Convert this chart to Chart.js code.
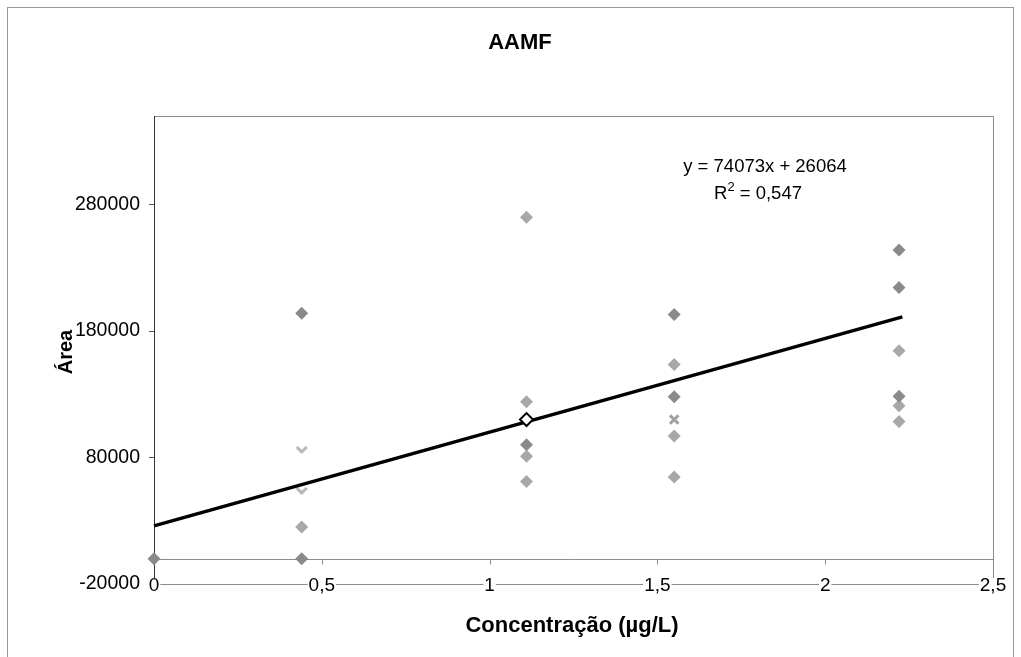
<!DOCTYPE html>
<html>
<head>
<meta charset="utf-8">
<script src="https://cdn.jsdelivr.net/npm/chart.js@4"></script>
<style>
  html, body { margin: 0; padding: 0; background: #fff; }
</style>
</head>
<body>
<canvas id="AAMFgraph" width="1021" height="657"></canvas>
<script>
// values
const darkX = [0, 0.44, 0.44, 1.11, 1.55, 1.55, 2.22, 2.22, 2.22];
const darkY = [0, 0, 194000, 90000, 193000, 128000, 244000, 214500, 128500];
const lightX = [0.44, 1.11, 1.11, 1.11, 1.11, 1.55, 1.55, 1.55, 2.22, 2.22, 2.22];
const lightY = [25000, 270000, 124000, 81000, 61000, 153500, 97000, 64500, 164500, 121000, 108500];
const vX = [0.44, 0.44];
const vY = [86000, 53500];
const crossX = [1.55];
const crossY = [110000];
const openX = [1.11];
const openY = [110000];
const trendX = [0, 2.23];
const trendY = [26000, 191200];
const xTicks = [0, 0.5, 1, 1.5, 2, 2.5];
const yTicks = [-20000, 80000, 180000, 280000];

const FONT = '"Liberation Sans", Arial, sans-serif';

function pts(xs, ys) {
    return xs.map((x, i) => ({x: x, y: ys[i]}));
}

// little "v" marker
const vMark = document.createElement('canvas');
vMark.width = 14;
vMark.height = 10;
(function () {
    const c = vMark.getContext('2d');
    c.strokeStyle = '#b4b4b4';
    c.lineWidth = 3;
    c.beginPath();
    c.moveTo(2, 2);
    c.lineTo(7, 7);
    c.lineTo(12, 2);
    c.stroke();
})();

const plotBox = {
    id: 'plotBox',
    beforeDraw(chart) {
        const ctx = chart.ctx;
        const a = chart.chartArea;
        ctx.save();
        ctx.strokeStyle = '#8c8c8c';
        ctx.lineWidth = 1;
        ctx.strokeRect(a.left + 0.5, a.top + 0.5, a.right - a.left, a.bottom - a.top);
        ctx.restore();
    }
};

const frame = {
    id: 'frame',
    beforeDatasetsDraw(chart) {
        const ctx = chart.ctx;
        const a = chart.chartArea;
        const xs = chart.scales.x;
        const zeroY = Math.round(chart.scales.y.getPixelForValue(0)) + 0.5;
        ctx.save();
        ctx.strokeStyle = '#8c8c8c';
        ctx.lineWidth = 1;
        ctx.beginPath();
        ctx.moveTo(a.left, zeroY);
        ctx.lineTo(a.right, zeroY);
        xTicks.forEach((v) => {
            const px = Math.round(xs.getPixelForValue(v)) + 0.5;
            ctx.moveTo(px, zeroY);
            ctx.lineTo(px, zeroY + 5);
        });
        ctx.stroke();
        ctx.strokeStyle = '#333';
        ctx.beginPath();
        ctx.moveTo(a.left + 0.5, a.top);
        ctx.lineTo(a.left + 0.5, a.bottom);
        ctx.stroke();

        // x tick labels sit on the bottom edge of the plot
        ctx.font = '19px ' + FONT;
        ctx.textAlign = 'center';
        ctx.textBaseline = 'middle';
        xTicks.forEach((v) => {
            const txt = String(v).replace('.', ',');
            const px = xs.getPixelForValue(v);
            const w = ctx.measureText(txt).width;
            ctx.fillStyle = '#fff';
            ctx.fillRect(px - w / 2 - 1, a.bottom - 6, w + 2, 13);
            ctx.fillStyle = '#000';
            ctx.fillText(txt, px, a.bottom + 2);
        });
        ctx.restore();
    },
    afterDraw(chart) {
        const ctx = chart.ctx;
        ctx.save();
        ctx.strokeStyle = '#999';
        ctx.lineWidth = 1;
        ctx.strokeRect(7.5, 7.5, 1006, 700);
        ctx.fillStyle = '#000';
        ctx.textAlign = 'center';
        ctx.textBaseline = 'middle';
        ctx.font = 'bold 22px ' + FONT;
        ctx.fillText('AAMF', 520, 43);
        ctx.fillText('Concentração (µg/L)', 572, 626);
        ctx.font = 'bold 20px ' + FONT;
        ctx.save();
        ctx.translate(66, 352);
        ctx.rotate(-Math.PI / 2);
        ctx.fillText('Área', 0, 0);
        ctx.restore();
        ctx.font = '18.5px ' + FONT;
        ctx.fillText('y = 74073x + 26064', 765, 167);
        // R² with a raised small 2
        ctx.textAlign = 'left';
        const r = 'R', rest = ' = 0,547';
        ctx.font = '18.5px ' + FONT;
        const wR = ctx.measureText(r).width;
        const wRest = ctx.measureText(rest).width;
        ctx.font = '13px ' + FONT;
        const w2 = ctx.measureText('2').width;
        const x0 = 758 - (wR + w2 + wRest) / 2;
        ctx.font = '18.5px ' + FONT;
        ctx.fillText(r, x0, 194);
        ctx.font = '13px ' + FONT;
        ctx.fillText('2', x0 + wR, 187);
        ctx.font = '18.5px ' + FONT;
        ctx.fillText(rest, x0 + wR + w2, 194);
        ctx.restore();
    }
};

const AAMFchart = new Chart(document.getElementById('AAMFgraph'), {
    type: 'scatter',
    data: {
        datasets: [
            {
                label: 'escuro',
                data: pts(darkX, darkY),
                pointStyle: 'rectRot',
                pointRadius: 6.5,
                backgroundColor: '#8a8a8a',
                borderColor: '#8a8a8a',
                borderWidth: 0,
                clip: false,
                order: 3
            },
            {
                label: 'claro',
                data: pts(lightX, lightY),
                pointStyle: 'rectRot',
                pointRadius: 6.5,
                backgroundColor: '#a8a8a8',
                borderColor: '#a8a8a8',
                borderWidth: 0,
                clip: false,
                order: 3
            },
            {
                label: 'v',
                data: pts(vX, vY),
                pointStyle: vMark,
                clip: false,
                order: 3
            },
            {
                label: 'x',
                data: pts(crossX, crossY),
                pointStyle: 'crossRot',
                pointRadius: 6,
                borderColor: '#a0a0a0',
                borderWidth: 3,
                clip: false,
                order: 3
            },
            {
                label: 'tendência',
                type: 'line',
                data: pts(trendX, trendY),
                borderColor: '#000',
                borderWidth: 3.5,
                pointRadius: 0,
                fill: false,
                clip: false,
                order: 2
            },
            {
                label: 'aberto',
                data: pts(openX, openY),
                pointStyle: 'rectRot',
                pointRadius: 6.5,
                backgroundColor: '#fff',
                borderColor: '#000',
                borderWidth: 2,
                clip: false,
                order: 1
            }
        ]
    },
    options: {
        responsive: false,
        animation: false,
        layout: { padding: { left: 0, top: 116, right: 28, bottom: 0 } },
        plugins: {
            legend: { display: false },
            tooltip: { enabled: false }
        },
        scales: {
            x: {
                type: 'linear',
                min: 0,
                max: 2.5,
                afterBuildTicks: (s) => { s.ticks = xTicks.map((v) => ({value: v})); },
                afterFit: (s) => { s.height = 73; },
                ticks: { display: false },
                grid: { drawOnChartArea: false, drawTicks: false },
                border: { display: false }
            },
            y: {
                type: 'linear',
                min: -20000,
                max: 350000,
                afterBuildTicks: (s) => { s.ticks = yTicks.map((v) => ({value: v})); },
                afterFit: (s) => { s.width = 154; },
                ticks: {
                    color: '#000',
                    font: { family: FONT, size: 19.5 },
                    padding: 9,
                    callback: (v) => String(v)
                },
                grid: { drawOnChartArea: false, tickLength: 5, color: '#555' },
                border: { display: false }
            }
        }
    },
    plugins: [plotBox, frame]
});
</script>
</body>
</html>
